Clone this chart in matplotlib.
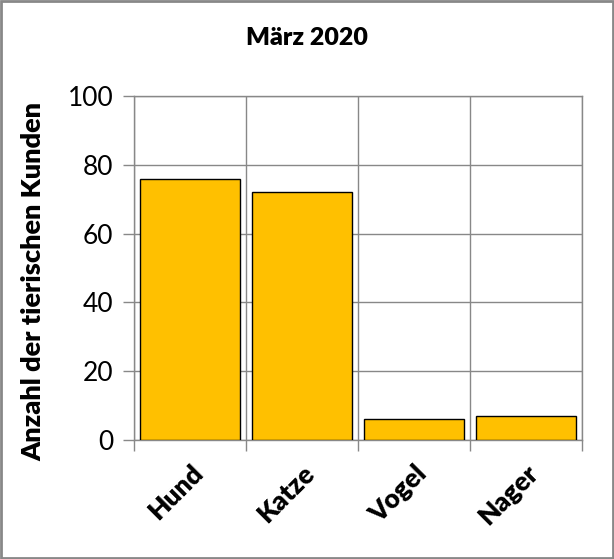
import matplotlib.pyplot as plt
import numpy as np

# data
categories = ['Hund', 'Katze', 'Vogel', 'Nager']
kunden = [76, 72, 6, 7]
yticks = [0, 20, 40, 60, 80, 100]

plt.rcParams['font.family'] = ['Lato', 'DejaVu Sans']

fig = plt.figure(figsize=(6.14, 5.59), dpi=100)
ax = fig.add_axes([134 / 614, 1 - 440 / 559, 448 / 614, 344 / 559])

x = np.arange(len(categories))
ax.bar(x, kunden, width=0.89, color='#FFC000', edgecolor='black', linewidth=1, zorder=3)

ax.set_xlim(-0.5, len(categories) - 0.5)
ax.set_ylim(0, 100)
ax.set_yticks(yticks)
ax.set_yticklabels([str(v) for v in yticks], fontsize=19)

# gridlines at the category boundaries, ticks there too
ax.set_xticks(np.arange(-0.5, len(categories)), minor=False)
ax.set_xticklabels([])
ax.set_xticks(x, minor=True)
ax.set_xticklabels(categories, minor=True, rotation=45, ha='right', va='top',
                   rotation_mode='anchor', fontsize=19, fontweight='heavy')
ax.tick_params(axis='x', which='minor', length=0, pad=15)
ax.tick_params(axis='x', which='major', length=8, color='#888888', width=1)
ax.tick_params(axis='y', length=8, color='#888888', width=1, pad=7)

ax.grid(True, which='major', color='#888888', linewidth=1, zorder=0)
for s in ax.spines.values():
    s.set_color('#888888')
    s.set_linewidth(1)

ax.set_ylabel('Anzahl der tierischen Kunden', fontsize=19.5, fontweight='heavy', va='center')
ax.yaxis.set_label_coords(-0.225, 0.46)
fig.text(0.5, 1 - 38 / 559, 'März 2020', ha='center', va='center', fontsize=18, fontweight='heavy')

# outer frame
fig.patches.append(plt.Rectangle((0.002, 0.002), 0.996, 0.996, transform=fig.transFigure,
                                 fill=False, edgecolor='#888888', linewidth=2))

fig.savefig('out.png', dpi=100)
